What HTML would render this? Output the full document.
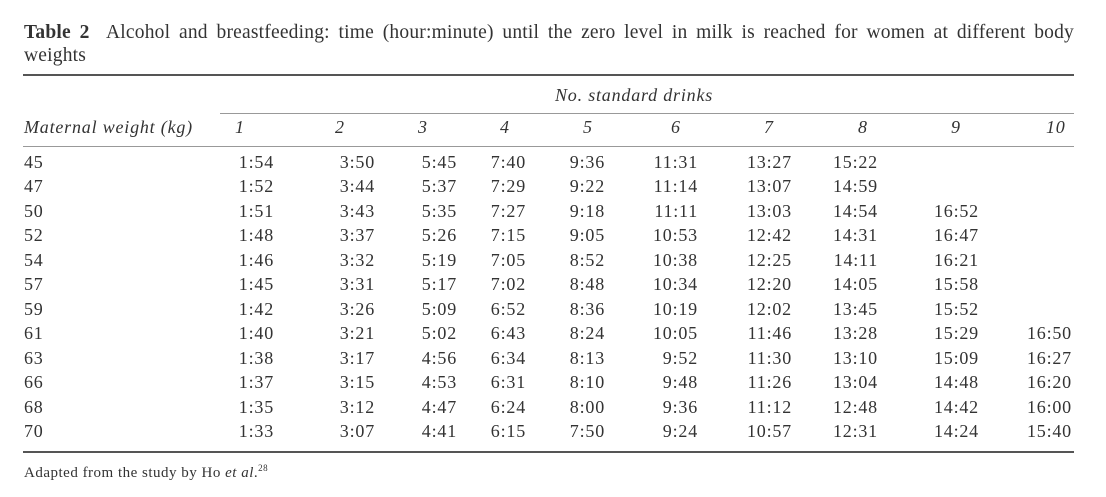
<!DOCTYPE html>
<html><head><meta charset="utf-8"><style>
body{margin:0;width:1106px;height:497px;background:#fff;position:relative;overflow:hidden;font-family:"Liberation Serif",serif;color:#333;}
.t{position:absolute;font-size:18px;line-height:20px;white-space:nowrap;letter-spacing:0.8px;}
.r{text-align:right;}
.l{position:absolute;background:#555;}
i{font-style:italic}
</style></head><body>
<div class="t" style="left:24px;top:21px;font-size:19.5px;line-height:23px;width:1050px;letter-spacing:0.2px;white-space:normal;text-align:justify;text-align-last:justify;">
<b>Table 2</b>&nbsp; Alcohol and breastfeeding: time (hour:minute) until the zero level in milk is reached for women at different body</div>
<div class="t" style="left:24px;top:44px;font-size:19.5px;line-height:23px;letter-spacing:0.2px;">weights</div>
<div class="l" style="left:23px;top:74px;width:1051px;height:2px;"></div>
<div class="t" style="left:555px;top:85px;"><i>No. standard drinks</i></div>
<div class="l" style="left:220px;top:113px;width:854px;height:1px;background:#999"></div>
<div class="t" style="left:24px;top:117px;"><i>Maternal weight (kg)</i></div>
<div class="l" style="left:23px;top:146px;width:1051px;height:1px;background:#999"></div>
<div class="l" style="left:23px;top:451px;width:1051px;height:2px;"></div>
<div class="t" style="left:24px;top:458px;font-size:15px;letter-spacing:0.5px;">Adapted from the study by Ho <i>et al</i>.<sup style="font-size:9px">28</sup></div>
<div id="c"></div>
<script>
var hx=[237,337,420,502,585,673,766,860,953,1048];
var re=[273,374,456,525,604,697,791,877,978,1071];
var h='';
for(var k=0;k<10;k++)h+='<div class="t" style="left:'+(hx[k]-2)+'px;top:117px;"><i>'+(k+1)+'</i></div>';
var rows=[
["45","1:54","3:50","5:45","7:40","9:36","11:31","13:27","15:22","",""],
["47","1:52","3:44","5:37","7:29","9:22","11:14","13:07","14:59","",""],
["50","1:51","3:43","5:35","7:27","9:18","11:11","13:03","14:54","16:52",""],
["52","1:48","3:37","5:26","7:15","9:05","10:53","12:42","14:31","16:47",""],
["54","1:46","3:32","5:19","7:05","8:52","10:38","12:25","14:11","16:21",""],
["57","1:45","3:31","5:17","7:02","8:48","10:34","12:20","14:05","15:58",""],
["59","1:42","3:26","5:09","6:52","8:36","10:19","12:02","13:45","15:52",""],
["61","1:40","3:21","5:02","6:43","8:24","10:05","11:46","13:28","15:29","16:50"],
["63","1:38","3:17","4:56","6:34","8:13","9:52","11:30","13:10","15:09","16:27"],
["66","1:37","3:15","4:53","6:31","8:10","9:48","11:26","13:04","14:48","16:20"],
["68","1:35","3:12","4:47","6:24","8:00","9:36","11:12","12:48","14:42","16:00"],
["70","1:33","3:07","4:41","6:15","7:50","9:24","10:57","12:31","14:24","15:40"]];
for(var i=0;i<rows.length;i++){var y=Math.round(152+i*24.45);
h+='<div class="t" style="left:24px;top:'+y+'px;">'+rows[i][0]+'</div>';
for(var k=1;k<11;k++)if(rows[i][k])h+='<div class="t r" style="right:'+(1106-re[k-1]-1)+'px;top:'+y+'px;">'+rows[i][k]+'</div>';}
document.getElementById('c').innerHTML=h;
</script>
</body></html>
